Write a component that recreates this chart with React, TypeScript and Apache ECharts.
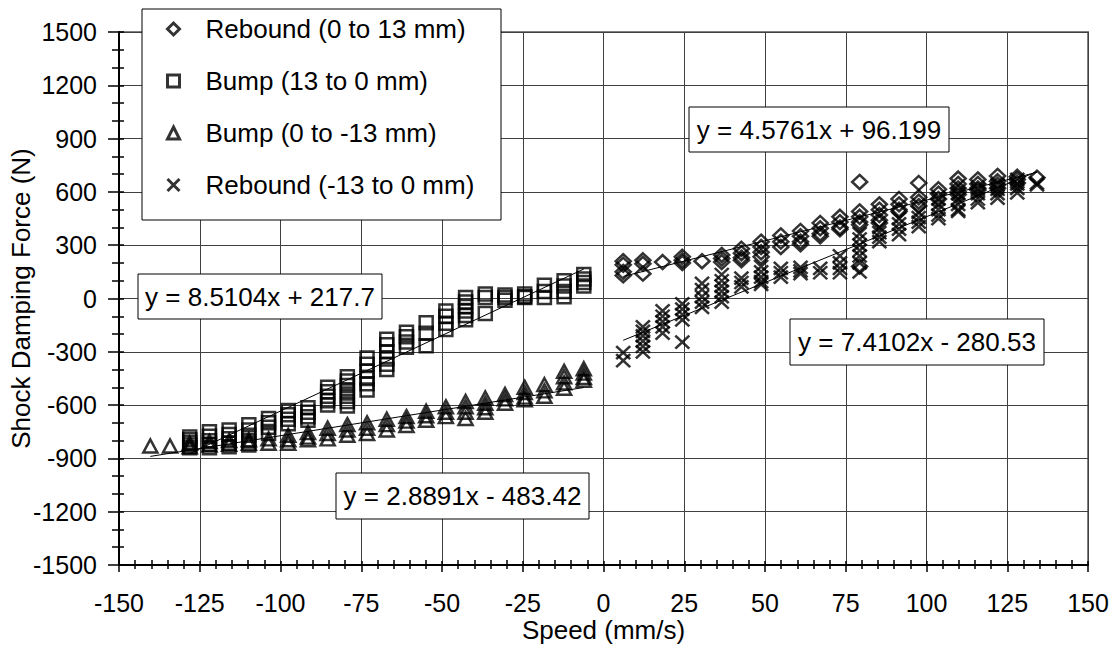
import React, { useEffect, useRef } from 'react';
import * as echarts from 'echarts';

const FONT = '"Liberation Sans", Arial, Helvetica, sans-serif';

// Speed columns (mm/s)
const posSpeeds = [6.1, 12.2, 18.3, 24.4, 30.5, 36.6, 42.7, 48.8, 54.9, 61.0, 67.1, 73.2, 79.3, 85.4, 91.5, 97.6, 103.7, 109.8, 115.9, 122.0, 128.1, 134.2];
const negSpeeds = [-140.3, -134.2, -128.1, -122.0, -115.9, -109.8, -103.7, -97.6, -91.5, -85.4, -79.3, -73.2, -67.1, -61.0, -54.9, -48.8, -42.7, -36.6, -30.5, -24.4, -18.3, -12.2, -6.1];

// Rebound (0 to 13 mm) - forces per positive speed column
const reboundUpForces = [
  [210, 190, 150, 130], [215, 195, 140], [205], [235, 215, 200], [210], [245, 225, 205],
  [280, 255, 230, 215], [320, 290, 260, 235], [355, 320, 290], [380, 350, 320, 305],
  [425, 395, 365, 350], [460, 430, 400, 390], [656, 490, 460, 430, 415, 180],
  [530, 500, 470, 440, 425], [560, 530, 500, 490], [650, 570, 545, 520], [615, 590, 560],
  [675, 645, 620, 600, 585], [670, 645, 620, 610], [690, 660, 640, 620], [685, 670, 650], [680],
];

// Rebound (-13 to 0 mm)
const reboundDownForces = [
  [-305, -350], [-160, -185, -210, -240, -270, -300], [-70, -100, -130, -160, -195],
  [-30, -60, -90, -120, -245], [85, 50, 10, -20, -50], [135, 100, 70, 40, 10, -20],
  [115, 90, 65], [180, 150, 120, 95, 80], [170, 145, 120], [175, 155, 140], [170, 145],
  [240, 200, 170, 145], [365, 335, 300, 270, 240, 200, 150], [400, 370, 345, 320],
  [450, 420, 390, 360], [485, 455, 430, 405], [560, 530, 500, 470, 450],
  [590, 560, 530, 500, 490], [615, 590, 560, 540], [640, 615, 590, 565],
  [670, 645, 620, 595], [650, 640],
];

// Bump (13 to 0 mm) - forces per negative speed column
const bumpUpForces = [
  [], [], [-780, -795, -810, -825, -840], [-750, -775, -800, -820, -840],
  [-740, -765, -790, -815, -835], [-710, -740, -770, -800, -825], [-675, -700, -725, -760],
  [-630, -655, -680, -705], [-615, -640, -665, -685], [-500, -525, -550, -575, -600],
  [-440, -465, -490, -520, -550, -580, -605], [-335, -370, -410, -450, -480, -515],
  [-230, -260, -300, -340, -370, -400], [-190, -215, -245, -275], [-136, -196, -266],
  [-70, -100, -140, -175], [5, -20, -45, -70, -95, -120], [25, 5, -85], [20, 5, -10],
  [25, 10, 5], [75, 40, 5], [100, 70, 40, 10], [135, 110, 90, 70],
];

// Bump (0 to -13 mm)
const bumpDownForces = [
  [-830], [-830], [-815, -835], [-805, -825], [-800, -820], [-795, -815], [-790, -815],
  [-770, -795, -815], [-755, -780, -795], [-730, -760, -790], [-710, -740, -770],
  [-700, -730, -760], [-680, -710, -740], [-665, -690, -715], [-635, -660, -685],
  [-610, -640, -665], [-580, -610, -640, -675], [-560, -590, -615, -640], [-540, -565, -590],
  [-500, -530, -555, -570], [-485, -520, -550], [-410, -440, -475, -505], [-395, -420, -445, -460],
];

const seriesNames = ['Rebound (0 to 13 mm)', 'Bump (13 to 0 mm)', 'Bump (0 to -13 mm)', 'Rebound (-13 to 0 mm)'];
const trendSlopes = [4.5761, 8.5104, 2.8891, 7.4102];
const trendIntercepts = [96.199, 217.7, -483.42, -280.53];
const trendLabels = ['y = 4.5761x + 96.199', 'y = 8.5104x + 217.7', 'y = 2.8891x - 483.42', 'y = 7.4102x - 280.53'];

const xTicks = { min: -150, max: 150, interval: 25 };
const yTicks = { min: -1500, max: 1500, interval: 300 };

function toPairs(speeds: number[], forces: number[][]): number[][] {
  const out: number[][] = [];
  speeds.forEach((s, i) => (forces[i] || []).forEach((f) => out.push([s, f])));
  return out;
}

export default function App() {
  const ref = useRef<HTMLDivElement>(null);
  useEffect(() => {
    const chart = echarts.init(ref.current!, null, { renderer: 'svg' });
    const sets = [
      toPairs(posSpeeds, reboundUpForces),
      toPairs(negSpeeds, bumpUpForces),
      toPairs(negSpeeds, bumpDownForces),
      toPairs(posSpeeds, reboundDownForces),
    ];
    const symbols: any[] = ['diamond', 'rect', 'triangle', 'path://M0 0L10 10M10 0L0 10'];
    const sizes: any[] = [[15, 14], 13, [14, 13], [14, 13]];
    const hollow = { color: 'rgba(0,0,0,0)', borderColor: '#000', borderWidth: 2.5 };

    const scatter = sets.map((d, i) => ({
      type: 'scatter',
      name: seriesNames[i],
      data: d,
      symbol: symbols[i],
      symbolSize: sizes[i],
      itemStyle: hollow,
      xAxisIndex: 0,
      yAxisIndex: 0,
      silent: true,
      z: 2,
    }));
    const trends = sets.map((d, i) => {
      const xs = d.map((p) => p[0]);
      const x0 = Math.min(...xs);
      const x1 = Math.max(...xs);
      return {
        type: 'line',
        data: [
          [x0, trendSlopes[i] * x0 + trendIntercepts[i]],
          [x1, trendSlopes[i] * x1 + trendIntercepts[i]],
        ],
        symbol: 'none',
        showSymbol: false,
        lineStyle: { color: '#000', width: 1 },
        xAxisIndex: 0,
        yAxisIndex: 0,
        silent: true,
        z: 3,
      };
    });

    const labelBoxes = [
      { x: 689, y: 107, w: 260, h: 45 },
      { x: 138, y: 274, w: 244, h: 45 },
      { x: 336, y: 473, w: 253, h: 46 },
      { x: 790, y: 319, w: 254, h: 46 },
    ];
    const graphics: any[] = [
      {
        type: 'rect',
        shape: { x: 142, y: 9, width: 359, height: 211 },
        style: { fill: '#fff', stroke: '#000', lineWidth: 1 },
        z: 10,
        silent: true,
      },
    ];
    labelBoxes.forEach((b, i) => {
      graphics.push({
        type: 'rect',
        shape: { x: b.x, y: b.y, width: b.w, height: b.h },
        style: { fill: '#fff', stroke: '#000', lineWidth: 1 },
        z: 10,
        silent: true,
      });
      graphics.push({
        type: 'text',
        x: b.x + b.w / 2,
        y: b.y + b.h / 2,
        style: {
          text: trendLabels[i],
          fill: '#000',
          font: `26px ${FONT}`,
          align: 'center',
          verticalAlign: 'middle',
        },
        z: 11,
        silent: true,
      });
    });

    const tickColor = '#000';
    const labelStyle = { fontSize: 25, color: '#000', fontFamily: FONT };
    const nameStyle = { fontSize: 26, color: '#000', fontFamily: FONT };

    chart.setOption({
      animation: false,
      backgroundColor: '#fff',
      grid: {
        left: 119, right: 30, top: 32, bottom: 81,
        containLabel: false, outerBoundsMode: 'none',
        show: true, borderColor: '#808080', borderWidth: 2, backgroundColor: 'rgba(0,0,0,0)',
      },
      legend: {
        data: seriesNames,
        orient: 'vertical',
        left: 166,
        top: 16,
        itemWidth: 12,
        itemHeight: 12,
        itemGap: 26,
        padding: 0,
        selectedMode: false,
        itemStyle: { color: 'rgba(0,0,0,0)', borderColor: '#000', borderWidth: 3 },
        textStyle: { fontSize: 26, color: '#000', fontFamily: FONT, padding: [0, 0, 0, 21] },
        z: 20,
      },
      xAxis: [
        {
          type: 'value', ...xTicks, position: 'bottom',
          axisLine: { show: true, onZero: false, lineStyle: { color: '#000', width: 2 } },
          axisTick: { show: true, inside: false, length: 7, lineStyle: { color: tickColor, width: 1.5 } },
          minorTick: { show: true, splitNumber: 5, length: 4, lineStyle: { color: tickColor, width: 1.5 } },
          axisLabel: { ...labelStyle, margin: 25, formatter: (v: number) => String(v) },
          splitLine: { show: true, lineStyle: { color: '#404040', width: 1 } },
          name: 'Speed (mm/s)', nameLocation: 'middle', nameGap: 52, nameMoveOverlap: false, nameTextStyle: nameStyle,
        },
        {
          type: 'value', ...xTicks, position: 'bottom',
          axisLine: { show: false, onZero: false },
          axisTick: { show: true, inside: true, length: 4, lineStyle: { color: tickColor, width: 1.5 } },
          minorTick: { show: true, splitNumber: 5, length: 5, lineStyle: { color: tickColor, width: 1.5 } },
          axisLabel: { show: false },
          splitLine: { show: false },
        },
      ],
      yAxis: [
        {
          type: 'value', ...yTicks, position: 'left',
          axisLine: { show: true, onZero: false, lineStyle: { color: '#000', width: 2 } },
          axisTick: { show: true, inside: false, length: 11, lineStyle: { color: tickColor, width: 1.5 } },
          minorTick: { show: true, splitNumber: 3, length: 7, lineStyle: { color: tickColor, width: 1.5 } },
          axisLabel: { ...labelStyle, margin: 22, formatter: (v: number) => String(v) },
          splitLine: { show: true, lineStyle: { color: '#404040', width: 1 } },
          name: 'Shock Damping Force (N)', nameLocation: 'middle', nameGap: 85, nameMoveOverlap: false, nameTextStyle: nameStyle,
        },
        {
          type: 'value', ...yTicks, position: 'left',
          axisLine: { show: false, onZero: false },
          axisTick: { show: true, inside: true, length: 5, lineStyle: { color: tickColor, width: 1.5 } },
          minorTick: { show: true, splitNumber: 3, length: 5, lineStyle: { color: tickColor, width: 1.5 } },
          axisLabel: { show: false },
          splitLine: { show: false },
        },
      ],
      graphic: graphics,
      series: [...scatter, ...trends],
    });
    return () => chart.dispose();
  }, []);
  return (
    <div
      ref={ref}
      style={{ position: 'fixed', left: 0, top: 0, width: 1118, height: 646, background: '#fff' }}
    />
  );
}
